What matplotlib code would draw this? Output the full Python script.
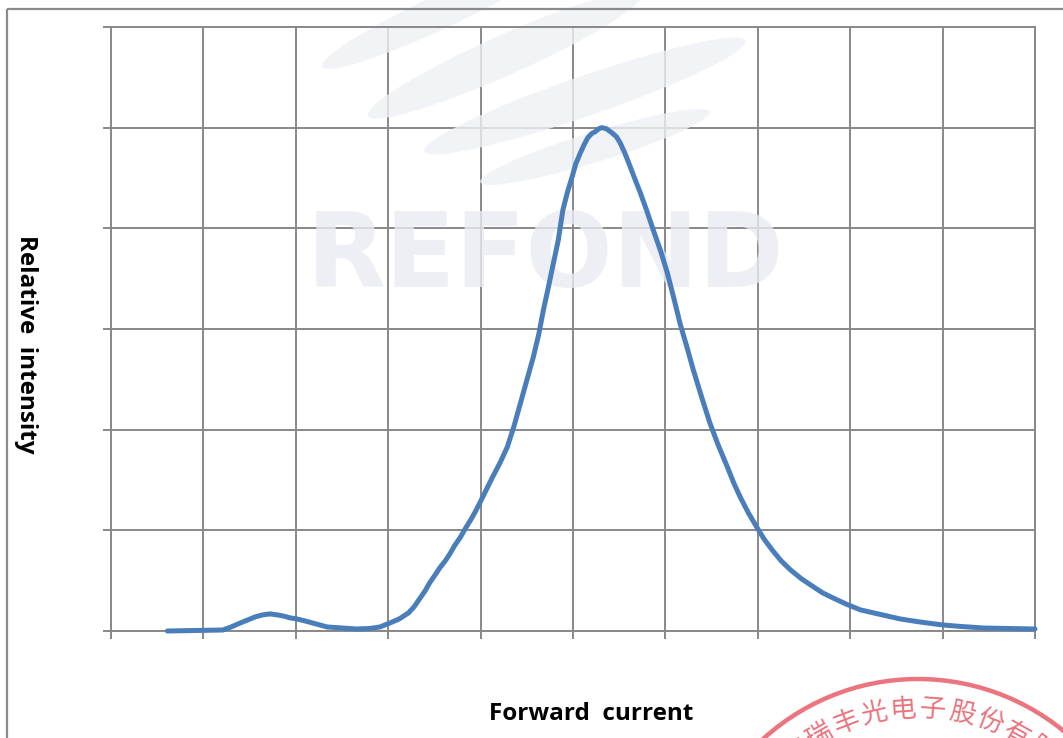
import matplotlib
matplotlib.use("Agg")
import matplotlib.pyplot as plt
import matplotlib.transforms as mtransforms
from matplotlib.patches import Ellipse, Rectangle, Circle
import numpy as np

# spectrum trace (x in grid divisions, y in grid divisions)
current = [0.61, 1.21, 1.24, 1.30, 1.40, 1.48, 1.56, 1.64, 1.72, 1.80, 1.86, 1.94, 2.01,
           2.10, 2.18, 2.26, 2.34, 2.42, 2.50, 2.66, 2.80, 2.91, 3.02, 3.07, 3.12, 3.17,
           3.22, 3.28, 3.34, 3.40, 3.45, 3.51, 3.56, 3.62, 3.67, 3.72, 3.78, 3.83, 3.89,
           3.94, 3.99, 4.06, 4.13, 4.21, 4.29, 4.36, 4.43, 4.50, 4.57, 4.63, 4.68, 4.73,
           4.78, 4.84, 4.89, 4.94, 4.99, 5.03, 5.08, 5.12, 5.16, 5.20, 5.24, 5.28, 5.31,
           5.36, 5.42, 5.47, 5.51, 5.56, 5.62, 5.67, 5.73, 5.80, 5.87, 5.95, 6.02, 6.09,
           6.16, 6.23, 6.30, 6.39, 6.48, 6.57, 6.67, 6.74, 6.81, 6.90, 6.99, 7.07, 7.16,
           7.25, 7.35, 7.47, 7.60, 7.70, 7.81, 7.95, 8.11, 8.30, 8.54, 8.75, 9.00, 9.20,
           9.44, 9.70, 10.0]
intensity = [0.00, 0.01, 0.02, 0.04, 0.08, 0.11, 0.14, 0.16, 0.17, 0.16, 0.15, 0.13, 0.12,
             0.10, 0.08, 0.06, 0.04, 0.035, 0.03, 0.02, 0.025, 0.04, 0.08, 0.10, 0.12, 0.15,
             0.18, 0.24, 0.32, 0.40, 0.48, 0.56, 0.63, 0.70, 0.77, 0.85, 0.93, 1.01, 1.10,
             1.18, 1.27, 1.40, 1.53, 1.67, 1.83, 2.03, 2.26, 2.49, 2.72, 2.95, 3.19, 3.40,
             3.62, 3.88, 4.18, 4.36, 4.51, 4.64, 4.75, 4.83, 4.90, 4.94, 4.96, 4.99, 5.00,
             4.99, 4.95, 4.91, 4.85, 4.75, 4.61, 4.49, 4.35, 4.17, 3.98, 3.77, 3.56, 3.31,
             3.05, 2.83, 2.60, 2.33, 2.07, 1.85, 1.63, 1.47, 1.33, 1.17, 1.03, 0.91, 0.80,
             0.70, 0.61, 0.52, 0.44, 0.38, 0.33, 0.27, 0.21, 0.17, 0.12, 0.09, 0.06, 0.045,
             0.03, 0.025, 0.02]

x_ticks = np.arange(0, 11, 1)
y_ticks = np.arange(0, 7, 1)

x_label = "Forward  current"
y_label = "Relative  intensity"
stamp_text = "深圳市瑞丰光电子股份有限公司"
watermark = "REFOND"

W, H = 1063, 738
fig = plt.figure(figsize=(W / 100, H / 100), dpi=100)
ax = fig.add_axes([111 / W, 1 - 631 / H, (1035 - 111) / W, (631 - 27) / H])

# pixel coordinates with origin at top-left
px = mtransforms.Affine2D().scale(1, -1).translate(0, H)

grid_c = "#888888"
ax.set_xlim(0, 10)
ax.set_ylim(0, 6)
ax.set_xticks(x_ticks)
ax.set_yticks(y_ticks)
ax.set_xticklabels([])
ax.set_yticklabels([])
ax.tick_params(length=6, width=1.4, color=grid_c, direction="out")
ax.grid(True, color=grid_c, lw=1.4)
for s in ax.spines.values():
    s.set_color(grid_c)
    s.set_linewidth(1.4)

# faint company watermark
swooshes = [((440, 12), 260, 34, -25), ((505, 55), 300, 40, -24),
            ((585, 96), 340, 40, -19), ((595, 147), 240, 30, -17)]
for c, w, h, a in swooshes:
    ax.add_patch(Ellipse(c, w, h, angle=a, transform=px, facecolor="#eef0f5",
                         edgecolor="none", alpha=0.8, clip_on=False, zorder=2.2))
ax.text(545, 259, watermark, transform=px, ha="center", va="center",
        fontsize=74, fontweight="bold", color="#e9ebf2", alpha=0.8, zorder=2.2)

ax.plot(current, intensity, color="#4a7ebb", lw=3.6, solid_capstyle="round",
        solid_joinstyle="round", clip_on=False, zorder=3)

# outer frame
fig.patches.append(Rectangle((7, 9), W + 20, H + 20, transform=px, fill=False,
                             edgecolor="#8a8a8a", lw=1.6))

fig.text(591 / W, 1 - 714 / H, x_label, ha="center", va="center",
         fontsize=17.5, fontweight="bold", family="Open Sans")
fig.text(26 / W, 1 - 344 / H, y_label, ha="center", va="center", rotation=270,
         fontsize=17.5, fontweight="bold", family="Open Sans")

# red seal in the lower right corner
cx, cy, R = 918, 909, 230
fig.patches.append(Circle((cx, cy), R, transform=px, fill=False,
                          edgecolor="#ea6570", lw=3.2, alpha=0.9))
step = 8.4
for i, ch in enumerate(stamp_text):
    th = 90 + (6.5 - i) * step
    r = 200
    x = cx + r * np.cos(np.radians(th))
    y = cy - r * np.sin(np.radians(th))
    fig.text(x / W, 1 - y / H, ch, ha="center", va="center", rotation=th - 90,
             fontsize=19, color="#e8646f", alpha=0.9,
             family=["Noto Sans CJK SC", "DejaVu Sans"])

fig.savefig("out.png", dpi=100)
